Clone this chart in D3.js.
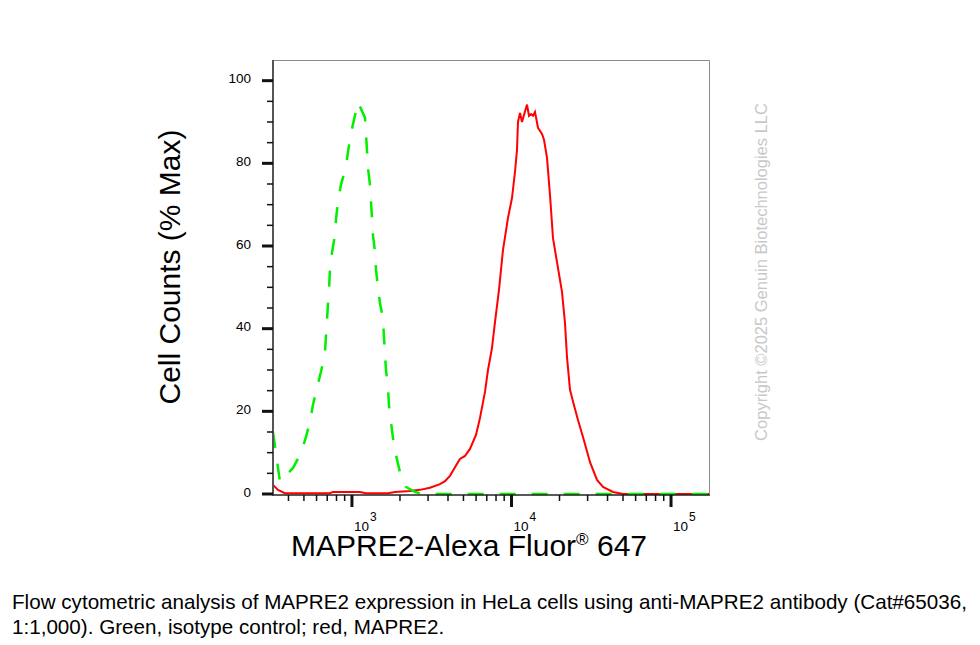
<!DOCTYPE html>
<html>
<head>
<meta charset="utf-8">
<script src="https://cdn.jsdelivr.net/npm/d3@7"></script>
<style>
	body { margin: 0; background: #fff; }
	svg { display: block; font-family: "Liberation Sans", Arial, sans-serif; }
</style>
</head>
<body>
<svg width="980" height="645"></svg>
<script>
// isotype control (green, dashed)
const isoValues = [320, 354, 427, 479, 515, 545, 569, 603, 639, 677, 687, 697, 718, 728, 749, 783, 794, 817, 853, 917, 944, 986, 1091, 1207, 1224, 1242, 1260, 1297, 1335, 1354, 1394, 1414, 1455, 1498, 1565, 1587, 1610, 1634, 1682, 1706, 1756, 1807, 1888, 2000, 2181, 2483, 2787, 173000];
const isoPercent = [15.0, 2.9, 6.3, 9.9, 13.8, 17.4, 21.5, 25.6, 29.5, 34.1, 38.0, 42.1, 49.4, 54.2, 58.3, 62.7, 66.3, 70.7, 74.8, 79.1, 82.7, 87.3, 94.8, 91.0, 87.3, 83.2, 78.9, 74.8, 66.8, 62.7, 58.6, 54.4, 50.1, 46.2, 42.6, 38.0, 34.1, 30.0, 25.9, 21.5, 17.4, 13.6, 9.4, 5.3, 1.7, 0.5, 0, 0];
// MAPRE2 (red)
const mapreValues = [320, 344, 380, 728, 760, 1122, 1224, 1682, 1860, 2310, 2669, 3083, 3562, 3829, 4116, 4424, 4755, 5111, 5493, 5991, 6346, 6822, 7124, 7545, 7882, 8349, 8844, 9508, 10072, 10518, 10827, 10985, 11307, 11637, 11978, 12511, 12877, 13255, 13643, 14042, 14663, 15535, 15991, 16698, 17436, 18206, 19289, 20729, 21643, 22284, 23271, 24649, 26113, 28070, 31062, 34365, 37478, 43297, 50020, 173000];
const maprePercent = [2.2, 1.0, 0.2, 0.2, 0.5, 0.5, 0.2, 0.2, 0.5, 0.7, 1.0, 1.5, 2.4, 3.1, 4.4, 6.5, 8.5, 9.2, 10.9, 14.3, 18.4, 24.7, 30.0, 35.3, 41.6, 49.4, 59.0, 66.8, 71.6, 77.9, 83.2, 90.0, 92.2, 90.0, 91.7, 94.2, 91.5, 91.9, 91.5, 92.4, 88.6, 87.1, 85.7, 81.3, 72.3, 61.9, 56.1, 48.9, 41.4, 33.1, 25.2, 21.5, 17.9, 13.8, 7.7, 3.4, 1.7, 0.5, 0, 0];

const xDomain = [320, 173000];
const yDomain = [0, 105];
const yMajorTicks = [0, 20, 40, 60, 80, 100];
const yMinorTicks = [5, 10, 15, 25, 30, 35, 45, 50, 55, 65, 70, 75, 85, 90, 95];
const xMajorTicks = [1000, 10000, 100000];
const xMajorLabels = ["3", "4", "5"];
const xMinorTicks = [400, 500, 600, 700, 800, 900, 2000, 3000, 4000, 5000, 6000, 7000, 8000, 9000, 20000, 30000, 40000, 50000, 60000, 70000, 80000, 90000];

const xTitle = "MAPRE2-Alexa Fluor";
const yTitle = "Cell Counts (% Max)";
const copyright = "Copyright ©2025 Genuin Biotechnologies LLC";
const caption = [
	"Flow cytometric analysis of MAPRE2 expression in HeLa cells using anti-MAPRE2 antibody (Cat#65036,",
	"1:1,000). Green, isotype control; red, MAPRE2."
];

const plot = { left: 273, right: 709, top: 60, bottom: 494 };

const svg = d3.select("svg");
const xScale = d3.scaleLog().domain(xDomain).range([plot.left, plot.right]);
const yScale = d3.scaleLinear().domain(yDomain).range([plot.bottom, plot.top]);

function drawFrame() {
	// top + right border
	svg.append("path")
		.attr("d", `M${plot.left},${plot.top + 0.5}H${plot.right + 0.5}V${plot.bottom}`)
		.attr("fill", "none")
		.attr("stroke", "#8a8a8a")
		.attr("stroke-width", 1);
}

function drawCurves() {
	const line = d3.line()
		.x(d => xScale(d[0]))
		.y(d => yScale(d[1]));

	svg.append("path")
		.datum(d3.zip(mapreValues, maprePercent))
		.attr("d", line)
		.attr("fill", "none")
		.attr("stroke", "#ff0000")
		.attr("stroke-width", 2);

	svg.append("path")
		.datum(d3.zip(isoValues, isoPercent))
		.attr("d", line)
		.attr("fill", "none")
		.attr("stroke", "#00f000")
		.attr("stroke-width", 2.5)
		.attr("stroke-dasharray", "16,16");
}

function drawAxes() {
	// y axis
	const gy = svg.append("g").attr("transform", `translate(${plot.left},0)`);
	gy.append("line")
		.attr("y1", plot.top).attr("y2", plot.bottom + 1)
		.attr("stroke", "#555").attr("stroke-width", 2);
	gy.selectAll(".ymin").data(yMinorTicks).join("line")
		.attr("x1", -6).attr("x2", 0)
		.attr("y1", d => yScale(d)).attr("y2", d => yScale(d))
		.attr("stroke", "#111").attr("stroke-width", 1.5);
	gy.selectAll(".ymaj").data(yMajorTicks).join("line")
		.attr("x1", -11).attr("x2", 0)
		.attr("y1", d => yScale(d)).attr("y2", d => yScale(d))
		.attr("stroke", "#111").attr("stroke-width", 3);
	gy.selectAll("text").data(yMajorTicks).join("text")
		.attr("x", -22)
		.attr("y", d => yScale(d) - 2)
		.attr("dy", "0.35em")
		.attr("text-anchor", "end")
		.attr("font-size", 13.5)
		.attr("fill", "#000")
		.text(d => d);

	// x axis
	const gx = svg.append("g").attr("transform", `translate(0,${plot.bottom + 1})`);
	gx.append("line")
		.attr("x1", plot.left - 1).attr("x2", plot.right + 1)
		.attr("stroke", "#222").attr("stroke-width", 1.5);
	gx.selectAll(".xmin").data(xMinorTicks).join("line")
		.attr("x1", d => xScale(d)).attr("x2", d => xScale(d))
		.attr("y1", 0).attr("y2", 6)
		.attr("stroke", "#111").attr("stroke-width", 1.5);
	gx.selectAll(".xmaj").data(xMajorTicks).join("line")
		.attr("x1", d => xScale(d)).attr("x2", d => xScale(d))
		.attr("y1", 0).attr("y2", 12)
		.attr("stroke", "#111").attr("stroke-width", 3);
	const lbl = gx.selectAll("text").data(xMajorTicks).join("text")
		.attr("x", d => xScale(d) + 2)
		.attr("y", 36)
		.attr("font-size", 13.5)
		.attr("fill", "#000");
	lbl.append("tspan").text("10");
	lbl.append("tspan")
		.attr("dy", -10)
		.attr("dx", 1)
		.attr("font-size", 12)
		.text((d, i) => xMajorLabels[i]);
}

function drawTexts() {
	const xt = svg.append("text")
		.attr("x", 469)
		.attr("y", 556)
		.attr("text-anchor", "middle")
		.attr("font-size", 30)
		.attr("fill", "#000");
	xt.append("tspan").text(xTitle);
	xt.append("tspan").attr("font-size", 17).attr("dy", -11).text("®");
	xt.append("tspan").attr("dy", 11).text(" 647");

	svg.append("text")
		.attr("transform", "translate(180,267)rotate(-90)")
		.attr("text-anchor", "middle")
		.attr("font-size", 30)
		.attr("fill", "#000")
		.text(yTitle);

	svg.append("text")
		.attr("transform", "translate(767,272)rotate(-90)")
		.attr("text-anchor", "middle")
		.attr("font-size", 16.5)
		.attr("fill", "#c8c8c8")
		.text(copyright);

	const cap = svg.selectAll(".caption").data(caption).join("text")
		.attr("class", "caption")
		.attr("x", 12)
		.attr("y", (d, i) => 609 + i * 25)
		.attr("font-size", 18)
		.attr("fill", "#000")
		.text(d => d);
	// fit first line to the reference width
	const w = cap.node().getComputedTextLength();
	cap.attr("font-size", 18 * 956 / w);
}

drawFrame();
drawCurves();
drawAxes();
drawTexts();
</script>
</body>
</html>
